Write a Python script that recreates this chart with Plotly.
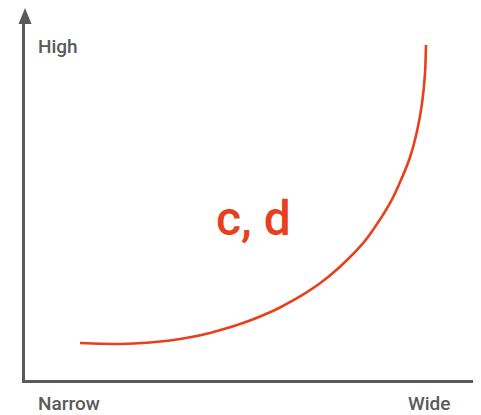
import plotly.graph_objects as go

# Curve values (width on x, height on y), both in 0-100 units
width_vals = [12.28, 16.74, 21.21, 27.90, 32.37, 36.83, 41.29, 45.76, 50.22, 54.69, 56.92,
              61.38, 65.85, 70.31, 74.78, 77.01, 81.47, 83.71, 85.94, 87.50, 88.62, 89.29, 89.51]
height_vals = [10.39, 10.20, 10.11, 10.53, 11.10, 11.99, 13.23, 14.80, 16.71, 19.02, 20.37,
               23.46, 27.16, 31.83, 37.44, 40.96, 49.66, 55.56, 62.58, 69.86, 77.72, 86.15, 94.10]

x_labels = ["Narrow", "Wide"]
y_label = "High"
curve_label = "c, d"

RED = "#e8401c"
GREY = "#5a5a5a"
FONT = "Roboto"

fig = go.Figure()
fig.add_trace(go.Scatter(
    x=width_vals, y=height_vals, mode="lines",
    line=dict(color=RED, width=2.6, shape="spline", smoothing=0.8),
    hoverinfo="skip", showlegend=False,
))

# the page body has an 8px margin, so the figure is sized to fit the window
fig.update_layout(
    width=473, height=407,
    margin=dict(l=17, r=8, t=16, b=35),
    paper_bgcolor="white", plot_bgcolor="white",
    xaxis=dict(range=[0, 100], showgrid=False, zeroline=False, showticklabels=False,
               ticks="", showline=True, linecolor=GREY, linewidth=3),
    yaxis=dict(range=[0, 100], showgrid=False, zeroline=False, showticklabels=False,
               ticks="", showline=True, linecolor=GREY, linewidth=3),
    shapes=[dict(type="path", xref="paper", yref="paper", xsizemode="pixel", ysizemode="pixel",
                 xanchor=0, yanchor=1, path="M -6.5,0 L 6.5,0 L 0,16 Z",
                 fillcolor=GREY, line=dict(width=0))],
    annotations=[
        dict(text=y_label, xref="paper", yref="paper", x=0.0246, y=0.938, xanchor="left", yanchor="middle",
             showarrow=False, font=dict(family=FONT, size=19, color=GREY, weight=500)),
        dict(text=x_labels[0], xref="paper", yref="paper", x=0.0246, y=-0.067, xanchor="left", yanchor="middle",
             showarrow=False, font=dict(family=FONT, size=19, color=GREY, weight=500)),
        dict(text=x_labels[1], xref="paper", yref="paper", x=0.953, y=-0.067, xanchor="right", yanchor="middle",
             showarrow=False, font=dict(family=FONT, size=19, color=GREY, weight=500)),
        dict(text=curve_label, xref="x", yref="y", x=51.1, y=45.5, xanchor="center", yanchor="middle",
             showarrow=False, font=dict(family=FONT, size=48, color=RED, weight=500)),
    ],
)

fig.write_html("out.html")
